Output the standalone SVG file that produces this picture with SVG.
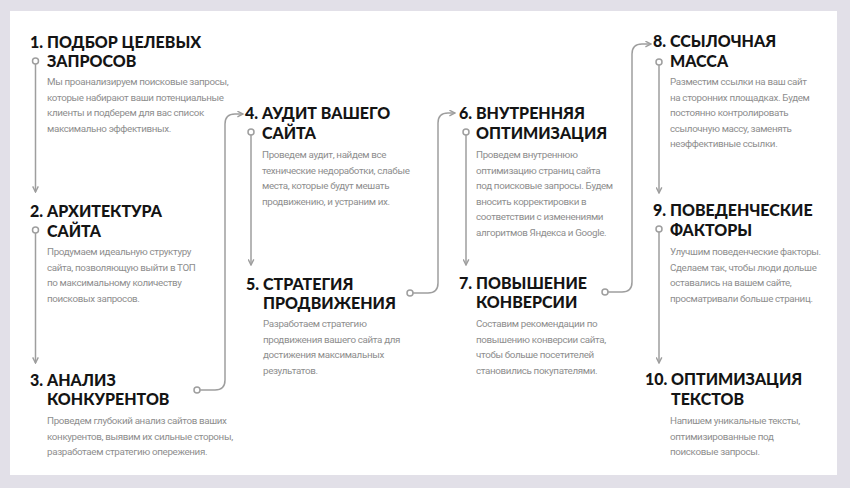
<svg xmlns="http://www.w3.org/2000/svg" width="850" height="488" viewBox="0 0 850 488">
<defs>
<style>
.t{font-family:Lato,"DejaVu Sans",sans-serif;font-weight:900;font-size:16px;fill:#141414;}
.b{font-family:Roboto,"Liberation Sans",sans-serif;font-size:9.8px;letter-spacing:-0.35px;fill:#8e8e8e;}
.c{fill:none;stroke:#9e9e9e;stroke-width:1.5;}
.d{fill:#fff;stroke:#9e9e9e;stroke-width:1.5;}
</style>
<marker id="ah" viewBox="0 0 10 10" refX="9" refY="5" markerWidth="7" markerHeight="7" markerUnits="userSpaceOnUse" orient="auto">
<path d="M1 1 L9 5 L1 9" fill="none" stroke="#9e9e9e" stroke-width="2"/>
</marker>
</defs>
<rect x="0" y="0" width="850" height="488" fill="#e2e0e8"/>
<rect x="10" y="11" width="827" height="464" fill="#fff"/>

<g id="connectors">
<path class="c" d="M35.5 64 V192" marker-end="url(#ah)"/>
<path class="c" d="M35.5 233 V363" marker-end="url(#ah)"/>
<path class="c" d="M200 390 H215 Q225 390 225 380 V124 Q225 114 235 114 H243" marker-end="url(#ah)"/>
<path class="c" d="M251 135 V265" marker-end="url(#ah)"/>
<path class="c" d="M413 293 H428 Q438 293 438 283 V123 Q438 113 448 113 H455" marker-end="url(#ah)"/>
<path class="c" d="M466 135 V265" marker-end="url(#ah)"/>
<path class="c" d="M608 292 H622 Q632 292 632 282 V54 Q632 44 642 44 H651" marker-end="url(#ah)"/>
<path class="c" d="M659 65 V193" marker-end="url(#ah)"/>
<path class="c" d="M659 232 V363" marker-end="url(#ah)"/>
<circle class="d" cx="35.5" cy="61" r="3"/>
<circle class="d" cx="35.5" cy="230" r="3"/>
<circle class="d" cx="197" cy="390" r="3"/>
<circle class="d" cx="251" cy="132" r="3"/>
<circle class="d" cx="410" cy="293" r="3"/>
<circle class="d" cx="466" cy="132" r="3"/>
<circle class="d" cx="605" cy="292" r="3"/>
<circle class="d" cx="659" cy="62" r="3"/>
<circle class="d" cx="659" cy="229" r="3"/>
</g>

<g id="n1">
<text class="t" x="30" y="48">1.</text>
<text class="t" x="47" y="48">ПОДБОР ЦЕЛЕВЫХ</text>
<text class="t" x="47" y="67">ЗАПРОСОВ</text>
<text class="b" x="47" y="85">Мы проанализируем поисковые запросы,</text>
<text class="b" x="47" y="100.5">которые набирают ваши потенциальные</text>
<text class="b" x="47" y="116">клиенты и подберем для вас список</text>
<text class="b" x="47" y="131.5">максимально эффективных.</text>
</g>
<g id="n2">
<text class="t" x="30" y="217">2.</text>
<text class="t" x="47" y="217">АРХИТЕКТУРА</text>
<text class="t" x="47" y="237">САЙТА</text>
<text class="b" x="47" y="255">Продумаем идеальную структуру</text>
<text class="b" x="47" y="270.5">сайта, позволяющую выйти в ТОП</text>
<text class="b" x="47" y="286">по максимальному количеству</text>
<text class="b" x="47" y="301.5">поисковых запросов.</text>
</g>
<g id="n3">
<text class="t" x="30" y="386">3.</text>
<text class="t" x="47" y="386">АНАЛИЗ</text>
<text class="t" x="47" y="405">КОНКУРЕНТОВ</text>
<text class="b" x="47" y="424">Проведем глубокий анализ сайтов ваших</text>
<text class="b" x="47" y="439.5">конкурентов, выявим их сильные стороны,</text>
<text class="b" x="47" y="455">разработаем стратегию опережения.</text>
</g>
<g id="n4">
<text class="t" x="245" y="119">4.</text>
<text class="t" x="262" y="119">АУДИТ ВАШЕГО</text>
<text class="t" x="262" y="139">САЙТА</text>
<text class="b" x="262" y="158">Проведем аудит, найдем все</text>
<text class="b" x="262" y="173.5">технические недоработки, слабые</text>
<text class="b" x="262" y="189">места, которые будут мешать</text>
<text class="b" x="262" y="204.5">продвижению, и устраним их.</text>
</g>
<g id="n5">
<text class="t" x="246" y="290">5.</text>
<text class="t" x="263" y="290">СТРАТЕГИЯ</text>
<text class="t" x="263" y="309">ПРОДВИЖЕНИЯ</text>
<text class="b" x="263" y="327">Разработаем стратегию</text>
<text class="b" x="263" y="342.5">продвижения вашего сайта для</text>
<text class="b" x="263" y="358">достижения максимальных</text>
<text class="b" x="263" y="373.5">результатов.</text>
</g>
<g id="n6">
<text class="t" x="459" y="119">6.</text>
<text class="t" x="476" y="119">ВНУТРЕННЯЯ</text>
<text class="t" x="476" y="139">ОПТИМИЗАЦИЯ</text>
<text class="b" x="476" y="158">Проведем внутреннюю</text>
<text class="b" x="476" y="173.5">оптимизацию страниц сайта</text>
<text class="b" x="476" y="189">под поисковые запросы. Будем</text>
<text class="b" x="476" y="204.5">вносить корректировки в</text>
<text class="b" x="476" y="220">соответствии с изменениями</text>
<text class="b" x="476" y="235.5">алгоритмов Яндекса и Google.</text>
</g>
<g id="n7">
<text class="t" x="459" y="289">7.</text>
<text class="t" x="476" y="289">ПОВЫШЕНИЕ</text>
<text class="t" x="476" y="308">КОНВЕРСИИ</text>
<text class="b" x="476" y="327">Составим рекомендации по</text>
<text class="b" x="476" y="342.5">повышению конверсии сайта,</text>
<text class="b" x="476" y="358">чтобы больше посетителей</text>
<text class="b" x="476" y="373.5">становились покупателями.</text>
</g>
<g id="n8">
<text class="t" x="653" y="47">8.</text>
<text class="t" x="670" y="47">ССЫЛОЧНАЯ</text>
<text class="t" x="670" y="67">МАССА</text>
<text class="b" x="670" y="85">Разместим ссылки на ваш сайт</text>
<text class="b" x="670" y="100.5">на сторонних площадках. Будем</text>
<text class="b" x="670" y="116">постоянно контролировать</text>
<text class="b" x="670" y="131.5">ссылочную массу, заменять</text>
<text class="b" x="670" y="147">неэффективные ссылки.</text>
</g>
<g id="n9">
<text class="t" x="653" y="216">9.</text>
<text class="t" x="670" y="216">ПОВЕДЕНЧЕСКИЕ</text>
<text class="t" x="670" y="236">ФАКТОРЫ</text>
<text class="b" x="670" y="255">Улучшим поведенческие факторы.</text>
<text class="b" x="670" y="270.5">Сделаем так, чтобы люди дольше</text>
<text class="b" x="670" y="286">оставались на вашем сайте,</text>
<text class="b" x="670" y="301.5">просматривали больше страниц.</text>
</g>
<g id="n10">
<text class="t" x="645" y="385">10.</text>
<text class="t" x="671" y="385">ОПТИМИЗАЦИЯ</text>
<text class="t" x="671" y="405">ТЕКСТОВ</text>
<text class="b" x="670" y="424">Напишем уникальные тексты,</text>
<text class="b" x="670" y="439.5">оптимизированные под</text>
<text class="b" x="670" y="455">поисковые запросы.</text>
</g>
</svg>
